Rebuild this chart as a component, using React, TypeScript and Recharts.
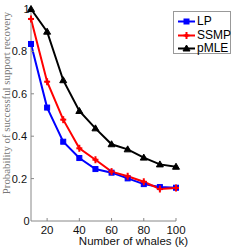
import { CartesianGrid, Legend, Line, LineChart, XAxis, YAxis } from 'recharts';

const whales = [10, 20, 30, 40, 50, 60, 70, 80, 90, 100];
const lpValues = [0.835, 0.535, 0.374, 0.297, 0.245, 0.228, 0.201, 0.174, 0.16, 0.157];
const ssmpValues = [0.953, 0.657, 0.478, 0.343, 0.289, 0.233, 0.211, 0.185, 0.151, 0.156];
const pmleValues = [1.0, 0.893, 0.664, 0.519, 0.437, 0.362, 0.338, 0.299, 0.267, 0.256];

const xTicks = [20, 40, 60, 80, 100];
const yTicks = [0, 0.2, 0.4, 0.6, 0.8, 1];

const data = whales.map((k, i) => ({ k, lp: lpValues[i], ssmp: ssmpValues[i], pmle: pmleValues[i] }));

const series = [
  { key: 'lp', name: 'LP', color: '#0000ff', marker: 'square' },
  { key: 'ssmp', name: 'SSMP', color: '#ff0000', marker: 'plus' },
  { key: 'pmle', name: 'pMLE', color: '#000000', marker: 'triangle' },
];

const sans = '"Liberation Sans", Arial, sans-serif';

function Marker({ cx, cy, color, marker }: { cx: number; cy: number; color: string; marker: string }) {
  if (cx == null || cy == null) return null;
  if (marker === 'square') {
    return <rect x={cx - 2.5} y={cy - 2.5} width={5} height={5} fill={color} stroke={color} />;
  }
  if (marker === 'triangle') {
    return <polygon points={`${cx},${cy - 3.5} ${cx + 3.5},${cy + 2.5} ${cx - 3.5},${cy + 2.5}`} fill={color} stroke={color} />;
  }
  return (
    <g stroke={color} strokeWidth={2}>
      <line x1={cx - 3} y1={cy} x2={cx + 3} y2={cy} />
      <line x1={cx} y1={cy - 3.5} x2={cx} y2={cy + 3.5} />
      <circle cx={cx} cy={cy} r={1.8} fill={color} strokeWidth={0} />
    </g>
  );
}

function XTick(props: any) {
  const { x, y, payload } = props;
  return (
    <g>
      <line x1={x} y1={221} x2={x} y2={218} stroke="#888" strokeWidth={1} />
      <text x={x} y={y + 11} textAnchor="middle" fontSize={11.5} fontFamily={sans} fill="#111">
        {payload.value}
      </text>
    </g>
  );
}

function YTick(props: any) {
  const { y, payload } = props;
  const v = payload.value;
  const whole = v === 0 || v === 1;
  return (
    <g>
      {!whole && <line x1={31} y1={y} x2={34} y2={y} stroke="#888" strokeWidth={1} />}
      <text x={whole ? 29.5 : 27} y={y + 4} textAnchor="end" fontSize={11} fontFamily={sans} fill="#111">
        {whole ? String(v) : v.toFixed(1)}
      </text>
    </g>
  );
}

function XLabel() {
  return (
    <text x={133.5} y={245} textAnchor="middle" fontFamily={sans} fontSize={11.5} fill="#111">
      Number of whales (k)
    </text>
  );
}

function YLabel() {
  return (
    <text
      x={0}
      y={0}
      transform="translate(10, 103) rotate(-90)"
      textAnchor="middle"
      fontFamily='"Liberation Serif", serif'
      fontSize={10.8}
      fill="#777"
    >
      Probability of successful support recovery
    </text>
  );
}

function LegendBox() {
  return (
    <div style={{ border: '1px solid #999', background: '#fff', width: 58, height: 43, boxSizing: 'border-box', position: 'relative' }}>
      {series.map((s, i) => (
        <div key={s.key} style={{ position: 'absolute', left: 3, top: 3 + i * 13.5, height: 13, display: 'flex', alignItems: 'center' }}>
          <svg width={19} height={13}>
            <line x1={1} y1={6.5} x2={18} y2={6.5} stroke={s.color} strokeWidth={2} />
            <Marker cx={9.5} cy={6.5} color={s.color} marker={s.marker} />
          </svg>
          <span style={{ fontFamily: sans, fontSize: 12, color: '#000', marginLeft: 1, lineHeight: '13px' }}>{s.name}</span>
        </div>
      ))}
    </div>
  );
}

export default function App() {
  return (
    <div style={{ position: 'absolute', left: 0, top: 0, width: 249, height: 250, background: '#fff' }}>
      <LineChart width={249} height={250} data={data} margin={{ top: 9, right: 13, bottom: 0, left: 0 }}>
        <CartesianGrid stroke="none" fill="#fff" />
        <XAxis
          dataKey="k"
          type="number"
          domain={[10, 100]}
          ticks={xTicks}
          height={29}
          axisLine={{ stroke: '#888' }}
          tickLine={false}
          tickSize={0}
          tick={<XTick />}
          label={<XLabel />}
        />
        <YAxis
          type="number"
          domain={[0, 1]}
          ticks={yTicks}
          width={31}
          axisLine={{ stroke: '#888' }}
          tickLine={false}
          tickSize={0}
          tick={<YTick />}
          label={<YLabel />}
        />
        <Legend
          layout="vertical"
          verticalAlign="top"
          align="right"
          content={<LegendBox />}
          wrapperStyle={{ position: 'absolute', left: 173, top: 11, width: 60 }}
        />
        {series.map(s => (
          <Line
            key={s.key}
            dataKey={s.key}
            name={s.name}
            stroke={s.color}
            strokeWidth={2}
            isAnimationActive={false}
            dot={(p: any) => <Marker key={`${s.key}-${p.index}`} cx={p.cx} cy={p.cy} color={s.color} marker={s.marker} />}
          />
        ))}
      </LineChart>
    </div>
  );
}
